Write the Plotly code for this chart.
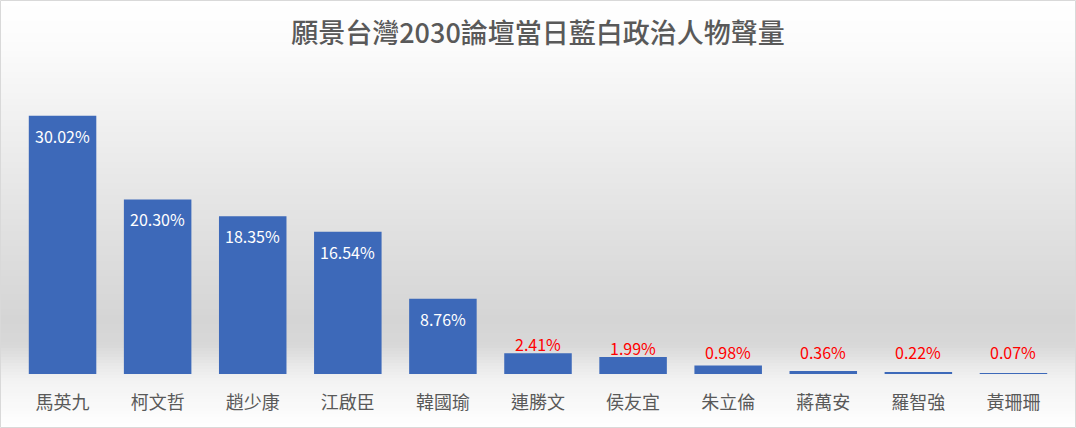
import plotly.graph_objects as go

# 政治人物與當日聲量(%)
names = ["馬英九", "柯文哲", "趙少康", "江啟臣", "韓國瑜", "連勝文",
         "侯友宜", "朱立倫", "蔣萬安", "羅智強", "黃珊珊"]
shares = [30.02, 20.30, 18.35, 16.54, 8.76, 2.41, 1.99, 0.98, 0.36, 0.22, 0.07]
share_labels = ["30.02%", "20.30%", "18.35%", "16.54%", "8.76%", "2.41%",
                "1.99%", "0.98%", "0.36%", "0.22%", "0.07%"]

W, H = 1076, 428
L, R, T, B = 15, 15, 73, 54
FONT = "Noto Sans CJK TC"
GREY = "#595959"

fig = go.Figure()
fig.add_trace(go.Bar(x=names, y=shares, marker=dict(color="#3d69b9", line=dict(width=0)),
                     hoverinfo="x+y"))

# data labels: white inside the tall bars, red above the short ones
annotations = []
for n, v, lab in zip(names, shares, share_labels):
    if v > 5:
        annotations.append(dict(x=n, y=v, text=lab, showarrow=False, yanchor="middle",
                                yshift=-20, font=dict(family=FONT, size=16, color="white")))
    else:
        annotations.append(dict(x=n, y=max(v, 1.5), text=lab, showarrow=False, yanchor="middle",
                                yshift=9, font=dict(family=FONT, size=16, color="#ff0000")))

# background gradient (white -> grey -> white), drawn as thin bands
stops = [(0, 255), (40, 252), (150, 236), (250, 222), (320, 213), (345, 216),
         (370, 236), (382, 243), (428, 255)]
ph = H - T - B
pw = W - L - R


def py2paper(py):
    return (H - B - py) / ph


def shade(py):
    for (y0, c0), (y1, c1) in zip(stops, stops[1:]):
        if y0 <= py <= y1:
            return round(c0 + (c1 - c0) * (py - y0) / (y1 - y0))
    return 255


shapes = []
step = 3
for py in range(0, H, step):
    c = shade(py + step / 2)
    shapes.append(dict(type="rect", xref="paper", yref="paper", layer="below",
                       x0=-L / pw, x1=(W - L) / pw, y0=py2paper(py + step), y1=py2paper(py),
                       fillcolor=f"rgb({c},{c},{c})", line=dict(width=0)))

# outer border
shapes.append(dict(type="rect", xref="paper", yref="paper", layer="above",
                   x0=(0.5 - L) / pw, x1=(W - 0.5 - L) / pw,
                   y0=py2paper(H - 0.5), y1=py2paper(0.5),
                   fillcolor="rgba(0,0,0,0)", line=dict(color="#d9d9d9", width=1)))

fig.update_layout(
    width=W, height=H,
    margin=dict(l=L, r=R, t=T, b=B),
    paper_bgcolor="white",
    plot_bgcolor="rgba(0,0,0,0)",
    bargap=0.29,
    showlegend=False,
    title=dict(text="願景台灣2030論壇當日藍白政治人物聲量", x=0.5, xanchor="center",
               y=1 - 33.5 / H, yanchor="middle", yref="container",
               font=dict(family=FONT, size=27, color=GREY, weight=500)),
    xaxis=dict(showgrid=False, zeroline=False, showline=False, ticks="",
               tickfont=dict(family=FONT, size=18, color=GREY), ticklabelstandoff=16),
    yaxis=dict(range=[0, 35], visible=False),
    annotations=annotations,
    shapes=shapes,
)

# drop the default page margin so the chart sits at the window's corner
fig.write_html("out.html", config={"displayModeBar": False},
               post_script="document.body.style.margin='0';")
